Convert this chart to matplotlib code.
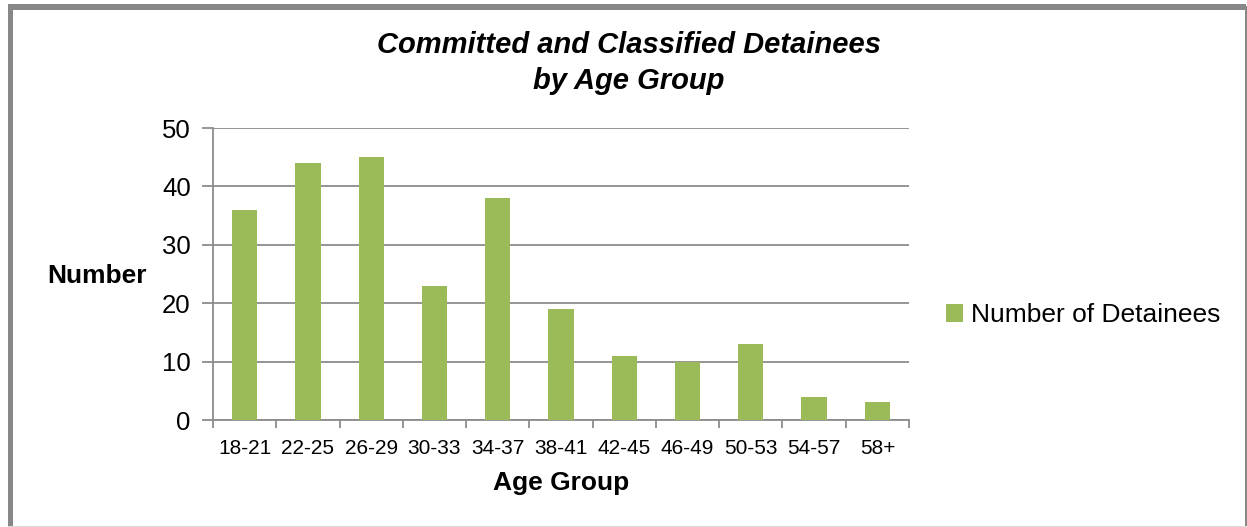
import matplotlib
matplotlib.use("Agg")
import matplotlib.pyplot as plt
from matplotlib.patches import Rectangle, Patch
import numpy as np

plt.rcParams['font.family'] = ['Liberation Sans', 'DejaVu Sans']

categories = ["18-21", "22-25", "26-29", "30-33", "34-37", "38-41",
              "42-45", "46-49", "50-53", "54-57", "58+"]
values = [36, 44, 45, 23, 38, 19, 11, 10, 13, 4, 3]
series_name = "Number of Detainees"
title = "Committed and Classified Detainees\nby Age Group"
yticks = [0, 10, 20, 30, 40, 50]

W, H = 1247, 527
fig = plt.figure(figsize=(W / 100, H / 100), dpi=100)

# Border
grey = "#878787"
fig.patches.append(Rectangle((8 / W, 1 - 526 / H), 5 / W, 520 / H, transform=fig.transFigure,
                             facecolor=grey, edgecolor="none"))
fig.patches.append(Rectangle((8 / W, 1 - 10 / H), 1238 / W, 6 / H, transform=fig.transFigure,
                             facecolor=grey, edgecolor="none"))
fig.patches.append(Rectangle((1245 / W, 1 - 526 / H), 1.5 / W, 520 / H, transform=fig.transFigure,
                             facecolor=grey, edgecolor="none"))
fig.patches.append(Rectangle((8 / W, 0), 1238 / W, 1.5 / H, transform=fig.transFigure,
                             facecolor="#d9d9d9", edgecolor="none"))

ax = fig.add_axes([213 / W, 1 - 420 / H, (909 - 213) / W, (420 - 128) / H])
x = np.arange(len(categories))
bars = ax.bar(x, values, width=0.4, color="#9BBB59", zorder=3, label=series_name)

ax.set_xlim(-0.5, len(categories) - 0.5)
ax.set_ylim(0, 50)
ax.set_yticks(yticks)
ax.set_yticklabels([str(v) for v in yticks], fontsize=18.5)
ax.yaxis.grid(True, color="#8c8c8c", linewidth=1.3, zorder=0)
ax.set_axisbelow(True)

ax.set_xticks(x)
ax.set_xticklabels(categories, fontsize=15)
ax.set_xticks(np.arange(-0.5, len(categories), 1), minor=True)
ax.tick_params(axis='x', which='major', length=0, pad=14)
ax.tick_params(axis='x', which='minor', length=6, width=1.3, color="#8c8c8c")
ax.tick_params(axis='y', length=8, width=1.3, color="#8c8c8c", pad=8)

for s in ["top", "right"]:
    ax.spines[s].set_visible(False)
for s in ["left", "bottom"]:
    ax.spines[s].set_color("#8c8c8c")
    ax.spines[s].set_linewidth(1.3)

fig.text(629 / W, 1 - 63 / H, title, ha="center", va="center", fontsize=21,
         fontweight="bold", fontstyle="italic", linespacing=1.35)
fig.text(97 / W, 1 - 276 / H, "Number", ha="center", va="center", fontsize=19, fontweight="bold")
fig.text(561 / W, 1 - 483 / H, "Age Group", ha="center", va="center", fontsize=19, fontweight="bold")

handle = Patch(facecolor="#9BBB59", edgecolor="none")
fig.legend([handle], [series_name], loc="center left", bbox_to_anchor=(946 / W, 1 - 315 / H),
           frameon=False, fontsize=19, handlelength=0.65, handleheight=0.65, handletextpad=0.3,
           borderaxespad=0, borderpad=0)

fig.savefig("out.png", dpi=100, facecolor="white")
